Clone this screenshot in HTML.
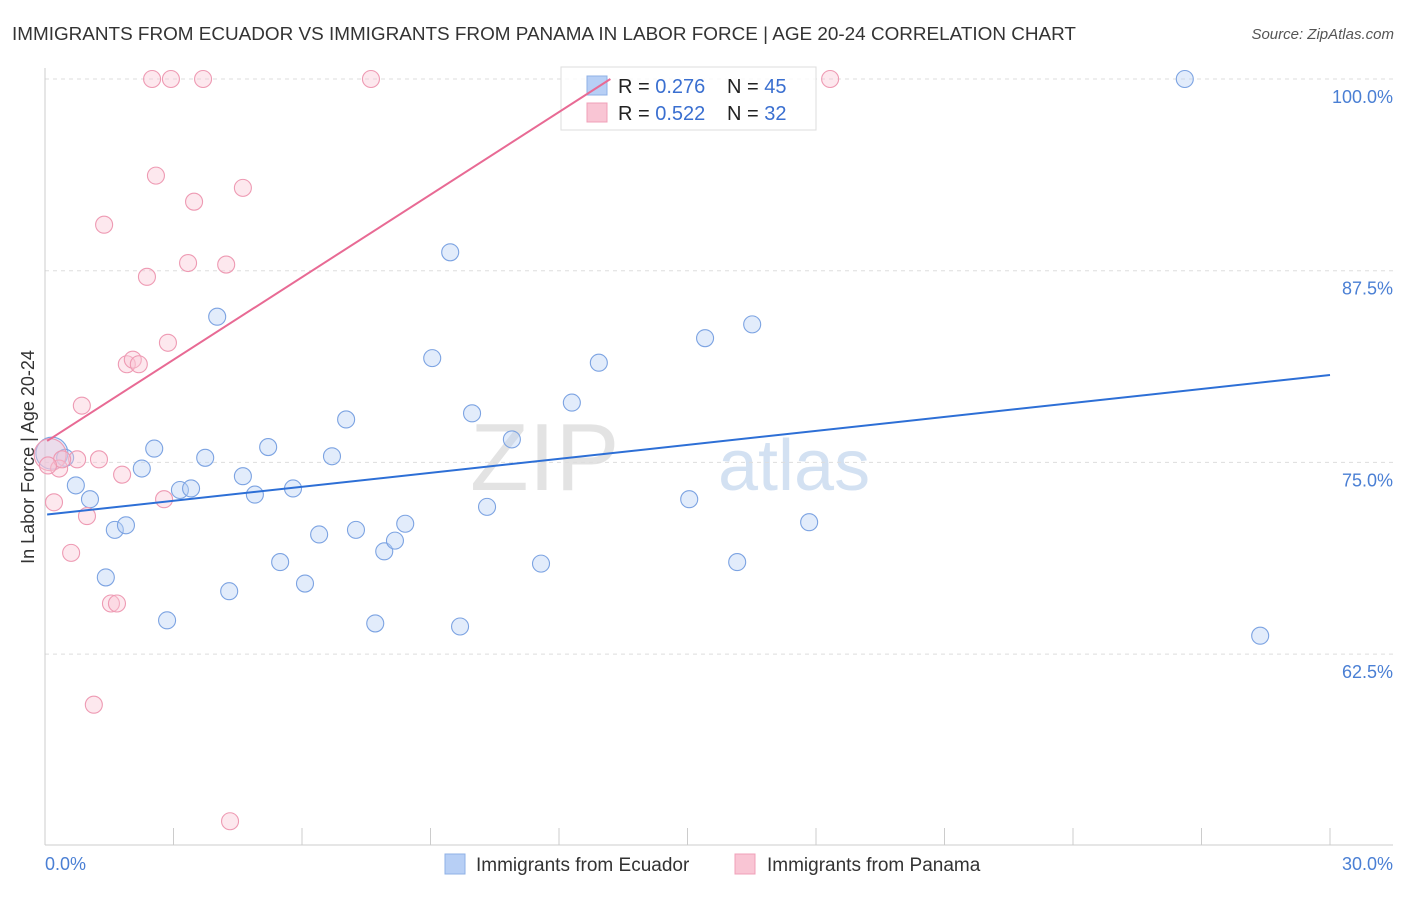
<!DOCTYPE html>
<html><head><meta charset="utf-8"><style>
body{margin:0;background:#fff;font-family:"Liberation Sans",sans-serif;}
svg text{font-family:"Liberation Sans",sans-serif;}
</style></head><body>
<svg id="c" width="1406" height="892" xmlns="http://www.w3.org/2000/svg">
<text x="12" y="40" font-size="18.9" fill="#333">IMMIGRANTS FROM ECUADOR VS IMMIGRANTS FROM PANAMA IN LABOR FORCE | AGE 20-24 CORRELATION CHART</text>
<text x="1394" y="39" font-size="15" fill="#555" font-style="italic" text-anchor="end">Source: ZipAtlas.com</text>
<text x="470" y="490" font-size="96" fill="#ddd" font-family="Liberation Serif" opacity="0.8">ZIP</text>
<text x="718" y="490" font-size="72" fill="#c9daf0" opacity="0.8">atlas</text>
<g id="grid"></g><g id="ticks"></g>
<line x1="45" y1="68" x2="45" y2="845" stroke="#ccc"/>
<line x1="45" y1="845" x2="1393" y2="845" stroke="#ccc"/>
<text x="34" y="457" font-size="18" fill="#333" text-anchor="middle" transform="rotate(-90 34 457)">In Labor Force | Age 20-24</text>
<text x="45" y="870" font-size="18" fill="#4a7fd4">0.0%</text>
<text x="1393" y="870" font-size="18" fill="#4a7fd4" text-anchor="end">30.0%</text>
<g id="pts"></g>
<g>
<rect x="561" y="67" width="255" height="63" fill="#fff" fill-opacity="0.85" stroke="#ddd"/>
<rect x="587" y="76" width="20" height="19" fill="#b7cff5" stroke="#8fb0e6"/>
<rect x="587" y="103" width="20" height="19" fill="#f9c5d4" stroke="#f0a0b8"/>
<text x="618" y="93" font-size="20" fill="#222">R = <tspan fill="#3a6fd0">0.276</tspan></text>
<text x="727" y="93" font-size="20" fill="#222">N = <tspan fill="#3a6fd0">45</tspan></text>
<text x="618" y="120" font-size="20" fill="#222">R = <tspan fill="#3a6fd0">0.522</tspan></text>
<text x="727" y="120" font-size="20" fill="#222">N = <tspan fill="#3a6fd0">32</tspan></text>
</g>
<g id="lines"></g>
<g>
<rect x="445" y="854" width="20" height="20" fill="#b7cff5" stroke="#8fb0e6"/>
<text x="476" y="871" font-size="19" fill="#333">Immigrants from Ecuador</text>
<rect x="735" y="854" width="20" height="20" fill="#f9c5d4" stroke="#f0a0b8"/>
<text x="767" y="871" font-size="19" fill="#333">Immigrants from Panama</text>
</g>
</svg>
<script>
const yTicks=[100,87.5,75,62.5];
const yTickLabels=["100.0%","87.5%","75.0%","62.5%"];
const xTicks=[0,3,6,9,12,15,18,21,24,27,30];
const blueX=[0.16,0.47,0.72,1.05,1.42,1.63,1.89,2.26,2.55,2.85,3.15,3.41,3.74,4.02,4.30,4.62,4.90,5.21,5.49,5.79,6.07,6.40,6.70,7.03,7.26,7.71,7.92,8.17,8.41,9.04,9.46,9.69,9.97,10.32,10.90,11.58,12.30,12.93,15.04,15.41,16.16,16.51,17.84,26.61,28.37];
const blueY=[75.6,75.3,73.5,72.6,67.5,70.6,70.9,74.6,75.9,64.7,73.2,73.3,75.3,84.5,66.6,74.1,72.9,76.0,68.5,73.3,67.1,70.3,75.4,77.8,70.6,64.5,69.2,69.9,71.0,81.8,88.7,64.3,78.2,72.1,76.5,68.4,78.9,81.5,72.6,83.1,68.5,84.0,71.1,100,63.7];
const pinkX=[0.12,0.21,0.33,0.61,0.75,0.86,0.98,1.14,1.26,1.38,1.54,1.68,1.80,1.91,2.05,2.19,2.38,2.50,2.59,2.78,2.87,2.94,3.34,3.48,3.69,4.23,4.32,4.62,7.61,18.33,0.4,0.07];
const pinkY=[75.5,72.4,74.6,69.1,75.2,78.7,71.5,59.2,75.2,90.5,65.8,65.8,74.2,81.4,81.7,81.4,87.1,100,93.7,72.6,82.8,100,88.0,92.0,100,87.9,51.6,92.9,100,100,75.2,74.8];
const blueLine=[0.05,71.6,30,80.7];
const pinkLine=[0.05,76.4,13.2,100];
const sx=v=>45+v/30*1285, sy=v=>79+(100-v)/12.5*191.7;
const NS="http://www.w3.org/2000/svg";
function mk(t,a,p){const e=document.createElementNS(NS,t);for(const k in a)e.setAttribute(k,a[k]);document.getElementById(p).appendChild(e);return e;}
yTicks.forEach((v,i)=>{
 const l=mk('line',{x1:45,x2:1393,y1:sy(v),y2:sy(v),stroke:'#ddd','stroke-dasharray':'4,4'},'grid');
 
 
 const t=mk('text',{x:1393,y:sy(v)+24,'font-size':18,fill:'#4a7fd4','text-anchor':'end'},'grid');
 t.textContent=yTickLabels[i];
 
 
});
xTicks.forEach(v=>{
 const l=mk('line',{x1:sx(v),x2:sx(v),y1:828,y2:845,stroke:'#ccc'},'ticks');
 
 
});
function pts(X,Y,f,s,n){X.forEach((x,i)=>{
 const r=(i==0)?16:8.5;
 const c=mk('circle',{cx:sx(x),cy:sy(Y[i]),r:r,fill:f,'fill-opacity':0.4,stroke:s,'stroke-width':1.1},'pts');
 
 
});}
pts(blueX,blueY,'#b7cff5','#7ca3e2','ecuador-point');
pts(pinkX,pinkY,'#f9c5d4','#ee9ab3','panama-point');
const b=mk('line',{x1:sx(blueLine[0]),y1:sy(blueLine[1]),x2:sx(blueLine[2]),y2:sy(blueLine[3]),stroke:'#2d6fd6','stroke-width':2},'lines');


const p=mk('line',{x1:sx(pinkLine[0]),y1:sy(pinkLine[1]),x2:sx(pinkLine[2]),y2:sy(pinkLine[3]),stroke:'#e86a94','stroke-width':2},'lines');


</script>
</body></html>
